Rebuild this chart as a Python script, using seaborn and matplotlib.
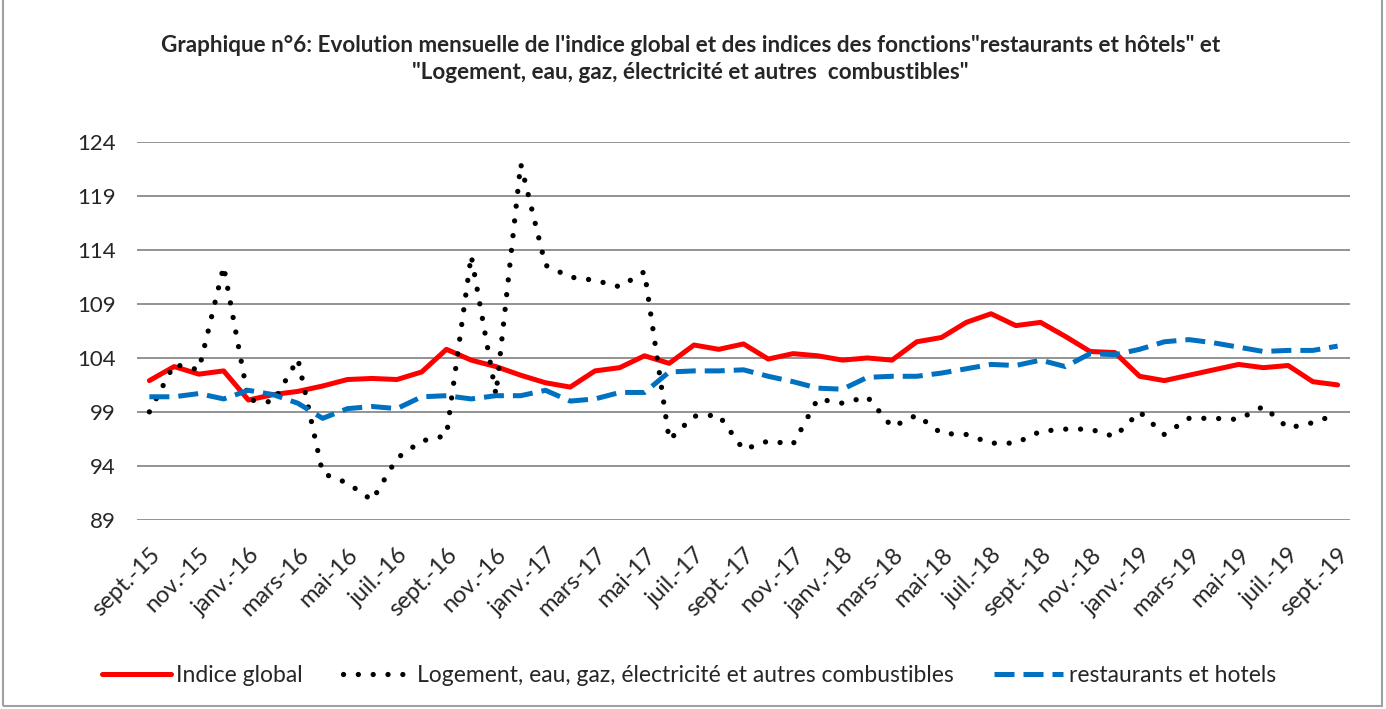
import matplotlib
matplotlib.use('Agg')
import matplotlib.pyplot as plt
import pandas as pd
import seaborn as sns

# French month abbreviations used on the axis, starting in september 2015
mois = ['sept.', 'oct.', 'nov.', 'déc.', 'janv.', 'févr.', 'mars', 'avr.', 'mai', 'juin', 'juil.', 'août']
annee_debut = 15
nb_mois = 49

indice_global = [101.9, 103.2, 102.5, 102.8, 100.1, 100.6, 100.9, 101.4, 102.0, 102.1,
                 102.0, 102.7, 104.8, 103.8, 103.2, 102.4, 101.7, 101.3, 102.8, 103.1,
                 104.2, 103.5, 105.2, 104.8, 105.3, 103.9, 104.4, 104.2, 103.8, 104.0,
                 103.8, 105.5, 105.9, 107.3, 108.1, 107.0, 107.3, 106.0, 104.6, 104.5,
                 102.3, 101.9, 102.4, 102.9, 103.4, 103.1, 103.3, 101.8, 101.5]

logement = [99.0, 103.4, 102.9, 112.5, 100.1, 99.9, 103.9, 93.3, 92.4, 90.8,
            94.7, 96.3, 96.8, 113.5, 100.6, 122.0, 112.6, 111.5, 111.2, 110.6,
            112.0, 96.4, 98.6, 98.7, 95.5, 96.3, 96.0, 100.2, 99.8, 100.4,
            97.6, 98.7, 97.0, 96.9, 96.1, 96.1, 97.2, 97.4, 97.4, 96.7,
            99.0, 96.9, 98.4, 98.4, 98.3, 99.5, 97.5, 98.0, 98.8]

restaurants = [100.4, 100.4, 100.7, 100.2, 101.0, 100.6, 99.8, 98.4, 99.3, 99.5,
               99.3, 100.4, 100.5, 100.2, 100.5, 100.5, 101.0, 100.0, 100.2, 100.8,
               100.8, 102.7, 102.8, 102.8, 102.9, 102.3, 101.8, 101.2, 101.1, 102.2,
               102.3, 102.3, 102.6, 103.0, 103.4, 103.3, 103.8, 103.2, 104.4, 104.3,
               104.8, 105.5, 105.7, 105.4, 105.0, 104.6, 104.7, 104.7, 105.1]

labels_x = [f"{mois[i % 12]}-{annee_debut + (i + 8) // 12}" for i in range(nb_mois)]

df = pd.DataFrame({
    'mois': range(nb_mois),
    'Indice global': indice_global,
    'Logement, eau, gaz, électricité et autres combustibles': logement,
    'restaurants et hotels': restaurants,
})

sns.set_style('white')
plt.rcParams['font.family'] = ['Lato', 'DejaVu Sans']

fig = plt.figure(figsize=(13.86, 7.09), dpi=100)
ax = fig.add_axes([137 / 1386, 1 - 519.7 / 709, (1350 - 137) / 1386, (519.7 - 142.3) / 709])

sns.lineplot(data=df, x='mois', y='Indice global', ax=ax, color='#ff0000',
             linewidth=3.6, label='Indice global')
sns.lineplot(data=df, x='mois', y='Logement, eau, gaz, électricité et autres combustibles', ax=ax,
             color='black', linewidth=3.8, linestyle=(0, (0.01, 2.8)),
             label='Logement, eau, gaz, électricité et autres combustibles')
ax.lines[-1].set_dash_capstyle('round')
sns.lineplot(data=df, x='mois', y='restaurants et hotels', ax=ax, color='#0070c0',
             linewidth=3.6, linestyle=(0, (4, 1.8)), label='restaurants et hotels')

ax.set_xlim(-0.5, nb_mois - 0.5)
ax.set_ylim(89, 124)
ax.set_yticks(range(89, 125, 5))
ax.set_xticks(range(0, nb_mois, 2))
ax.set_xticklabels(labels_x[::2], rotation=45, ha='right', rotation_mode='anchor', fontsize=17)
ax.tick_params(axis='y', labelsize=16, pad=12)
ax.tick_params(axis='x', pad=14)
ax.set_xlabel('')
ax.set_ylabel('')
ax.grid(axis='y', color='#808080', linewidth=1.2)
ax.set_axisbelow(True)
for s in ax.spines.values():
    s.set_visible(False)

# legend below, centred
handles, labs = ax.get_legend_handles_labels()
ax.legend(handles, labs, loc='center', bbox_to_anchor=(0.497, (709 - 676) / 709), bbox_transform=fig.transFigure,
          ncol=3, frameon=False, fontsize=16.5, handlelength=3.0, columnspacing=1.75, handletextpad=0.25)

fig.suptitle("Graphique n°6: Evolution mensuelle de l'indice global et des indices des fonctions\"restaurants et hôtels\" et\n"
             "\"Logement, eau, gaz, électricité et autres  combustibles\"",
             x=0.498, y=1 - 35 / 709, va='top', fontsize=16.2, fontweight='bold', linespacing=1.35)

# outer frame of the chart
fig.patches.append(plt.Rectangle((3 / 1386, 3 / 709), 1379 / 1386, 710 / 709, transform=fig.transFigure,
                                 fill=False, edgecolor='#a0a0a0', linewidth=1.5))

fig.savefig('out.png', dpi=100)
